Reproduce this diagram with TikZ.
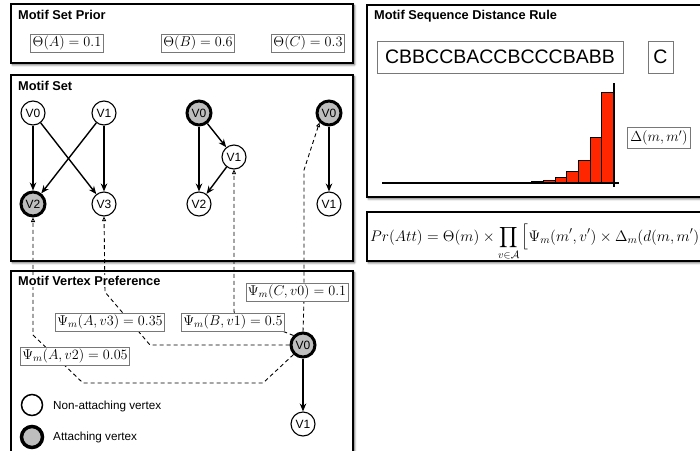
\RequirePackage{fix-cm}
\documentclass[tikz,border=0pt]{standalone}
\usepackage{fontspec}
\setmainfont{Liberation Serif}
\setsansfont{Liberation Sans}
\usepackage{amsmath}
\usetikzlibrary{arrows.meta,shadows.blur,calc}
\definecolor{barred}{RGB}{255,38,0}
\definecolor{attgray}{RGB}{190,190,190}
\definecolor{boxgray}{RGB}{120,120,120}
\tikzset{
  panel/.style={draw=black,line width=1.6pt,fill=white,
    blur shadow={shadow xshift=1.5pt,shadow yshift=-1.8pt,shadow blur steps=6,shadow blur radius=2.2pt,shadow opacity=60}},
  paneltitle/.style={anchor=west,font=\sffamily\bfseries\fontsize{12.8}{14}\selectfont,inner sep=1pt,fill=white},
  vtx/.style={circle,draw=black,line width=1.1pt,fill=white,minimum size=24pt,inner sep=0pt,
    font=\sffamily\fontsize{12}{13}\selectfont},
  attvtx/.style={vtx,fill=attgray,line width=3pt},
  lbl/.style={draw=boxgray,line width=0.7pt,fill=white,inner sep=2pt,font=\fontsize{14.2}{16}\selectfont},
  seqbox/.style={draw=boxgray,line width=0.7pt,fill=white,inner sep=0pt,font=\sffamily\fontsize{19.5}{22}\selectfont},
  edge/.style={line width=1.4pt,-{Stealth[length=8pt,width=6.5pt]}},
  pref/.style={line width=0.9pt,dash pattern=on 4pt off 3pt},
  preftip/.style={pref,-{Triangle[open,length=4.5pt,width=4pt,line width=0.8pt]}},
  legtext/.style={anchor=west,font=\sffamily\fontsize{11.7}{13}\selectfont,inner sep=0pt},
  bar/.style={draw=black,line width=0.6pt,fill=barred},
}
\begin{document}
\begin{tikzpicture}[x=1pt,y=-1pt]
\useasboundingbox (0,0) rectangle (700,450);

% ---------- panels ----------
\draw[panel] (11,4) rectangle (353,63);
\draw[panel] (11,75) rectangle (353,261);
\draw[panel] (11,271) rectangle (353,470);
\draw[panel] (367,5) rectangle (720,197);
\draw[panel] (367,212) rectangle (720,261);

% ---------- motif set prior ----------
\node[lbl] (thA) at (67,43) {$\Theta(A)=0.1$};
\node[lbl] (thB) at (198,43) {$\Theta(B)=0.6$};
\node[lbl] (thC) at (308,43) {$\Theta(C)=0.3$};

% ---------- motif set vertices ----------
\node[vtx]    (a0) at (33,113) {V0};
\node[vtx]    (a1) at (104,113) {V1};
\node[attvtx] (a2) at (33,204) {V2};
\node[vtx]    (a3) at (104,204) {V3};

\node[attvtx] (b0) at (199,113) {V0};
\node[vtx]    (b1) at (234,157) {V1};
\node[vtx]    (b2) at (199,204) {V2};

\node[attvtx] (c0) at (329,113) {V0};
\node[vtx]    (c1) at (329,204) {V1};

% vertex preference vertices
\node[attvtx] (w0) at (303,345) {V0};
\node[vtx]    (w1) at (303,424) {V1};

% ---------- preference paths ----------
\coordinate (qa1) at (33,335);
\coordinate (qa2) at (83,383);
\coordinate (qa3) at (263,383);
\coordinate (qb1) at (105,292);
\coordinate (qb2) at (150,345);
\coordinate (qc1) at (234,312);
\coordinate (qd1) at (304,170);
\coordinate (qd2) at (304,300);

\draw[preftip] (w0.south west) -- (qa3) -- (qa2) -- (qa1) -- (a2.south);
\draw[preftip] (w0.west) -- (qb2) -- (qb1) -- (a3.south);
\draw[preftip] (w0.north west) -- (qc1) -- (b1.south);
\draw[preftip] (w0.north) -- (qd2) -- (qd1) -- (c0.south west);

\node[paneltitle] (t1) at (17,15) {Motif Set Prior};
\node[paneltitle] (t2) at (17,86) {Motif Set};
\node[paneltitle] (t3) at (17,281) {Motif Vertex Preference};
\node[paneltitle] (t4) at (373,16) {Motif Sequence Distance Rule};

\node[lbl] (pc) at (297,292) {$\Psi_m(C,v0)=0.1$};
\node[lbl] (pa3) at (110,322) {$\Psi_m(A,v3)=0.35$};
\node[lbl] (pb1) at (233,322) {$\Psi_m(B,v1)=0.5$};
\node[lbl] (pa2) at (75,356) {$\Psi_m(A,v2)=0.05$};

% ---------- motif set edges ----------
\draw[edge] (a0) -- (a2);
\draw[edge] (a0) -- (a3);
\draw[edge] (a1) -- (a2);
\draw[edge] (a1) -- (a3);
\draw[edge] (b0) -- (b2);
\draw[edge] (b0) -- (b1);
\draw[edge] (b1) -- (b2);
\draw[edge] (c0) -- (c1);
\draw[edge] (w0) -- (w1);

% ---------- legend ----------
\node[vtx,minimum size=21pt,line width=1.5pt] (lg1) at (32,405) {};
\node[attvtx,minimum size=21pt,line width=3.5pt] (lg2) at (32,437) {};
\node[legtext] (lt1) at (53,406) {Non-attaching vertex};
\node[legtext] (lt2) at (53,437) {Attaching vertex};

% ---------- sequence distance rule ----------
\node[seqbox,minimum width=246pt,minimum height=32pt] (seq) at (500,57) {CBBCCBACCBCCCBABB};
\node[seqbox,minimum width=25pt,minimum height=32pt] (cur) at (660.5,57) {C};

\draw[bar] (531.7,182.7) rectangle (543.3,181.5);
\draw[bar] (543.3,182.7) rectangle (555,180);
\draw[bar] (555,182.7) rectangle (566.7,177.3);
\draw[bar] (566.7,182.7) rectangle (578.3,171.7);
\draw[bar] (578.3,182.7) rectangle (590,160);
\draw[bar] (590,182.7) rectangle (601.7,137.7);
\draw[bar] (601.7,182.7) rectangle (613.3,92.7);
\coordinate (ax0) at (382,183);
\coordinate (ax1) at (619,183);
\coordinate (ay0) at (614,83);
\coordinate (ay1) at (614,187);
\draw[line width=1.1pt] (ax0) -- (ax1);
\draw[line width=1.1pt] (ay0) -- (ay1);

\node[lbl,font=\fontsize{14.5}{16}\selectfont,inner sep=3pt] (dl) at (659,138) {$\Delta(m,m')$};

% ---------- attachment probability ----------
\node[anchor=base west,inner sep=0pt,font=\fontsize{15.3}{18}\selectfont] (form) at (370,241)
  {$\displaystyle Pr(Att)=\Theta(m)\times\prod_{v\in\mathcal{A}}\Big[\Psi_m(m',v')\times\Delta_m(d(m,m'))\Big]$};
\end{tikzpicture}
\end{document}
